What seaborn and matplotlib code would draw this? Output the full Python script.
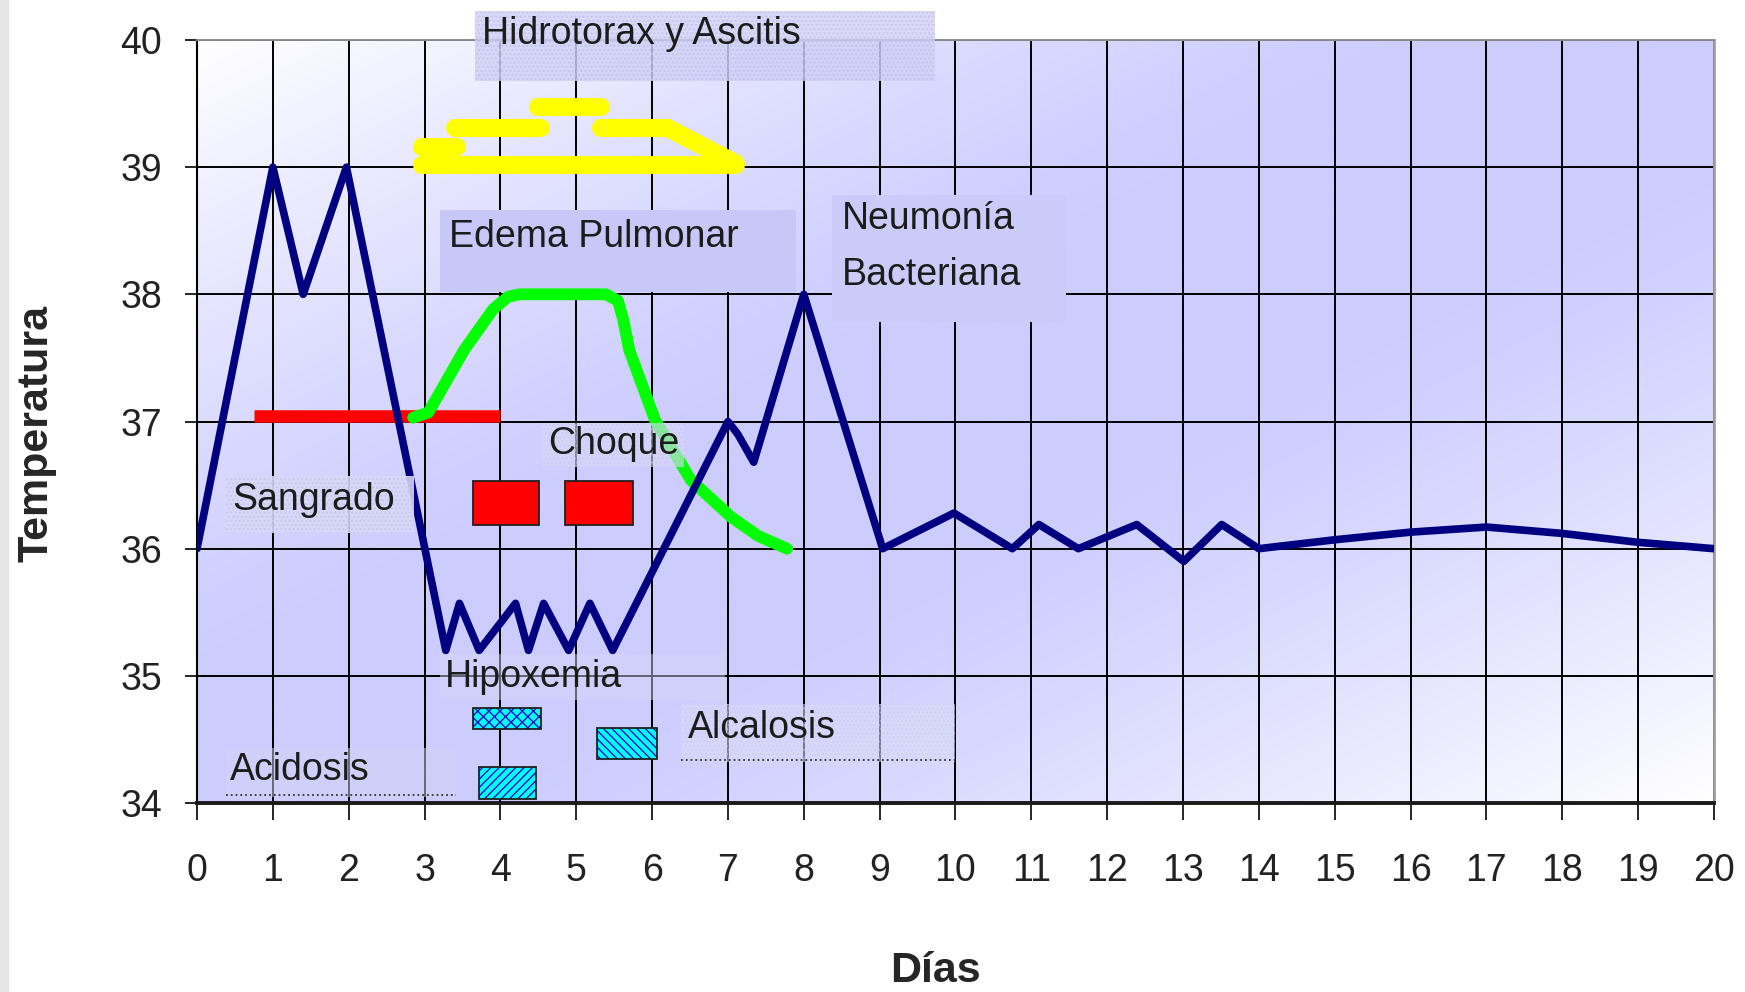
import numpy as np
import pandas as pd
import seaborn as sns
import matplotlib
matplotlib.use("Agg")
import matplotlib.pyplot as plt
from matplotlib.patches import Rectangle

# curva de temperatura (azul)
dias = [0, 1, 1.4, 1.97, 3.28, 3.46, 3.72, 4.2, 4.37, 4.57, 4.9, 5.18, 5.48,
        7.0, 7.13, 7.34, 8.0, 9.04, 9.98, 10.75, 11.1, 11.62, 12.39, 13.01,
        13.51, 14.0, 15, 16, 17, 18, 19, 20]
temperatura = [36, 39, 38, 39, 35.2, 35.57, 35.2, 35.57, 35.2, 35.57, 35.2,
               35.57, 35.2, 37.0, 36.9, 36.68, 38.0, 36.0, 36.28, 36.0, 36.19,
               36.0, 36.19, 35.9, 36.19, 36.0, 36.07, 36.13, 36.17, 36.12,
               36.05, 36.0]

# edema pulmonar (verde)
edema_x = [2.85, 3.05, 3.52, 3.9, 4.1, 4.25, 5.39, 5.55, 5.62, 5.7, 6.04,
           6.51, 7.04, 7.4, 7.78]
edema_y = [37.03, 37.07, 37.56, 37.88, 37.98, 38.0, 38.0, 37.95, 37.8, 37.56,
           37.01, 36.54, 36.25, 36.1, 36.0]

# hidrotorax y ascitis (amarillo), tramos horizontales
hidro_inicio = [2.97, 2.97, 3.4, 4.5, 5.32]
hidro_fin = [7.1, 3.43, 4.54, 5.33, 6.2]
hidro_nivel = [39.02, 39.16, 39.31, 39.47, 39.31]
hidro_diag_x = [6.2, 7.1]
hidro_diag_y = [39.31, 39.03]

# sangrado (rojo)
sangrado_x = [0.75, 4.0]
sangrado_y = [37.04, 37.04]

# choque (rectangulos rojos)
choque_ini = [3.64, 4.85]
choque_fin = [4.51, 5.75]
choque_bajo = [36.19, 36.19]
choque_alto = [36.53, 36.53]

# hipoxemia / alcalosis / acidosis (rectangulos cian)
gases_ini = [3.64, 5.27, 3.72]
gases_fin = [4.54, 6.06, 4.47]
gases_bajo = [34.58, 34.35, 34.03]
gases_alto = [34.75, 34.59, 34.28]
gases_trama = ["xxx", "\\\\\\\\", "////"]

x_ticks = list(range(0, 21))
y_ticks = list(range(34, 41))

sns.set_style("white")
plt.rcParams['font.family'] = ['Liberation Sans', 'DejaVu Sans']
plt.rcParams['hatch.linewidth'] = 1.0

fig = plt.figure(figsize=(17.45, 9.92), dpi=100)
fig.patches.append(Rectangle((0, 0), 8 / 1745, 1, transform=fig.transFigure,
                             color="#e6e6e6", zorder=0))
ax = fig.add_axes([0.1129, 0.1905, 0.8693, 0.7692])

# fondo degradado
u = np.linspace(0, 1, 400)
v = np.linspace(1, 0, 200)
U, V = np.meshgrid(u, v)
t = np.clip((np.abs(U - V) - 0.15) / 0.85, 0, 1) ** 1.3
base = np.array([0.80, 0.80, 1.0])
img = base[None, None, :] + (1 - base)[None, None, :] * t[:, :, None]
ax.imshow(img, extent=[0, 20, 34, 40], aspect="auto", zorder=0,
          interpolation="bilinear")

ax.set_xlim(0, 20)
ax.set_ylim(34, 40)
ax.set_axisbelow(True)
ax.grid(True, color="black", linewidth=1.4)
ax.set_xticks(x_ticks)
ax.set_yticks(y_ticks)
ax.tick_params(axis="x", direction="out", length=12, width=1.4, pad=24,
               labelsize=27, labelcolor="#222222", bottom=True)
ax.tick_params(axis="y", direction="out", length=9, width=1.4, pad=16,
               labelsize=27, labelcolor="#222222", left=True)
for side, col, lw in [("left", "black", 1.5), ("bottom", "#1a1a1a", 2.8),
                      ("top", "#8a8a8a", 1.4), ("right", "#a0a0a0", 2.0)]:
    ax.spines[side].set_color(col)
    ax.spines[side].set_linewidth(lw)


def caja(x0, y0, x1, y1, color, alpha, trama=None, trama_color=None, z=4):
    r = Rectangle((x0, y0), x1 - x0, y1 - y0, facecolor=color, alpha=alpha,
                  edgecolor=trama_color if trama else "none", linewidth=0,
                  hatch=trama, zorder=z, clip_on=False)
    ax.add_patch(r)


# cajas opacas detras de las curvas
caja(3.2, 38.02, 7.9, 38.66, "#c8c8f8", 1.0, z=1.5)
caja(8.37, 37.78, 11.46, 38.78, "#cbcbfa", 1.0, z=1.5)

# curvas
for a, b, n in zip(hidro_inicio, hidro_fin, hidro_nivel):
    ax.plot([a, b], [n, n], color="#ffff00", linewidth=13,
            solid_capstyle="round", zorder=3)
ax.plot(hidro_diag_x, hidro_diag_y, color="#ffff00", linewidth=13,
        solid_capstyle="round", zorder=3)
ax.plot(sangrado_x, sangrado_y, color="#ff0000", linewidth=9,
        solid_capstyle="butt", zorder=3)

ax.bar(choque_ini, np.subtract(choque_alto, choque_bajo),
       width=np.subtract(choque_fin, choque_ini), bottom=choque_bajo,
       align="edge", color="#ff0000", edgecolor="#202020", linewidth=1.3,
       zorder=3)
for a, b, lo, hi, tr in zip(gases_ini, gases_fin, gases_bajo, gases_alto,
                            gases_trama):
    ax.bar([a], [hi - lo], width=[b - a], bottom=[lo], align="edge",
           color="#00ffff", edgecolor="#1010c0", linewidth=0, hatch=tr,
           zorder=3)
    ax.add_patch(Rectangle((a, lo), b - a, hi - lo, facecolor="none",
                           edgecolor="#202020", linewidth=1.3, zorder=3.1))

curva = pd.DataFrame({"x": edema_x, "y": edema_y})
sns.lineplot(data=curva, x="x", y="y", ax=ax, color="#00ff00", linewidth=8.5,
             estimator=None, sort=False, zorder=3)
temp = pd.DataFrame({"dia": dias, "temp": temperatura})
sns.lineplot(data=temp, x="dia", y="temp", ax=ax, color="#000080",
             linewidth=5.5, estimator=None, sort=False, zorder=3.2)

# cajas semitransparentes encima
caja(3.67, 39.68, 9.73, 40.23, "#d0d0f6", 0.8, "....", "#c0c0ee")
caja(4.55, 36.64, 6.42, 36.99, "#dadaf8", 0.6, "....", "#c8c8f0")
caja(0.38, 36.12, 2.86, 36.57, "#d8d8f6", 0.88, "....", "#c6c6ee")
caja(3.2, 34.81, 6.96, 35.17, "#d6d6f8", 0.45)
caja(6.38, 34.32, 9.99, 34.78, "#dcdcf8", 0.55, "....", "#cacaf0")
caja(0.38, 34.05, 3.41, 34.43, "#d2d2f6", 0.5)
ax.plot([6.38, 9.99], [34.34, 34.34], ls=":", color="#333333", lw=1.3, zorder=4)
ax.plot([0.38, 3.41], [34.06, 34.06], ls=":", color="#333333", lw=1.3, zorder=4)

etiquetas = [("Hidrotorax y Ascitis", 3.76, 40.05),
             ("Edema Pulmonar", 3.32, 38.45),
             ("Neumonía", 8.5, 38.59),
             ("Bacteriana", 8.5, 38.15),
             ("Choque", 4.63, 36.82),
             ("Sangrado", 0.46, 36.38),
             ("Hipoxemia", 3.27, 34.99),
             ("Alcalosis", 6.47, 34.59),
             ("Acidosis", 0.44, 34.26)]
for s, x, y in etiquetas:
    ax.text(x, y, s, fontsize=27, ha="left", va="center", color="#1c1c1c",
            zorder=6, clip_on=False)

ax.set_xlabel("Días", fontsize=31, fontweight="bold", va="center")
ax.set_ylabel("Temperatura", fontsize=31, fontweight="bold", va="center")
ax.xaxis.set_label_coords(0.487, -0.22)
ax.yaxis.set_label_coords(-0.106, 0.484)

fig.savefig("out.png", dpi=100)
